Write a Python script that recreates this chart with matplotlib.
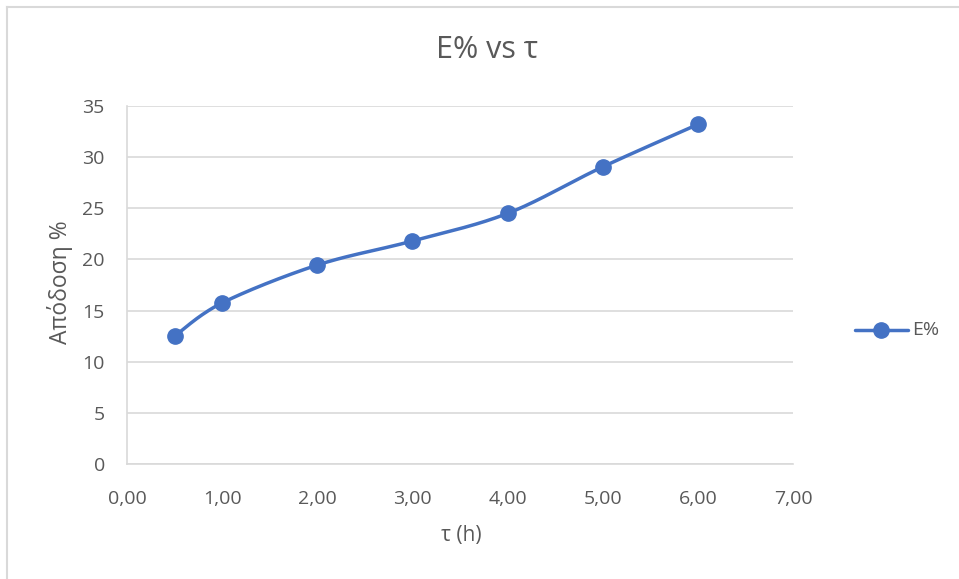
import numpy as np
import matplotlib.pyplot as plt
from matplotlib.lines import Line2D

# reaction time (h) and yield (%)
tau = [0.5, 1.0, 2.0, 3.0, 4.0, 5.0, 6.0]
yield_pct = [12.5, 15.75, 19.45, 21.8, 24.5, 29.05, 33.2]

xticks = [0, 1, 2, 3, 4, 5, 6, 7]
yticks = [0, 5, 10, 15, 20, 25, 30, 35]

blue = '#4472C4'
grey_txt = '#595959'
grid_c = '#D9D9D9'
fam = ['Open Sans', 'DejaVu Sans']


def smooth(x, y, n=40):
    # Catmull-Rom style bezier through the points, like a spreadsheet "smoothed line"
    x = np.asarray(x, float)
    y = np.asarray(y, float)
    px, py = [], []
    for i in range(len(x) - 1):
        i0 = max(i - 1, 0)
        i3 = min(i + 2, len(x) - 1)
        c1x = x[i] + (x[i + 1] - x[i0]) / 6
        c1y = y[i] + (y[i + 1] - y[i0]) / 6
        c2x = x[i + 1] - (x[i3] - x[i]) / 6
        c2y = y[i + 1] - (y[i3] - y[i]) / 6
        t = np.linspace(0, 1, n)
        a = (1 - t) ** 3
        b = 3 * (1 - t) ** 2 * t
        c = 3 * (1 - t) * t ** 2
        d = t ** 3
        px.extend(a * x[i] + b * c1x + c * c2x + d * x[i + 1])
        py.extend(a * y[i] + b * c1y + c * c2y + d * y[i + 1])
    return px, py


fig = plt.figure(figsize=(9.59, 5.79), dpi=100)
ax = fig.add_axes([127 / 959, 1 - 464 / 579, 666 / 959, 358 / 579])

sx, sy = smooth(tau, yield_pct)
ax.plot(sx, sy, color=blue, lw=2.5, solid_capstyle='round', zorder=3)
ax.plot(tau, yield_pct, 'o', color=blue, ms=11, zorder=4)

ax.set_xlim(0, 7)
ax.set_ylim(0, 35)
ax.set_xticks(xticks)
ax.set_yticks(yticks)
ax.set_xticklabels([f'{v:.2f}'.replace('.', ',') for v in xticks])
ax.set_yticklabels([str(v) for v in yticks])
ax.tick_params(length=0, labelsize=14, colors=grey_txt)
ax.tick_params(axis='x', pad=19)
ax.tick_params(axis='y', pad=16)
for lab in ax.get_xticklabels() + ax.get_yticklabels():
    lab.set_family(fam)

ax.grid(axis='y', color=grid_c, lw=1.2)
ax.set_axisbelow(True)
for s in ['top', 'right']:
    ax.spines[s].set_visible(False)
for s in ['left', 'bottom']:
    ax.spines[s].set_color(grid_c)
    ax.spines[s].set_linewidth(1.2)

fig.text(487 / 959, 1 - 50 / 579, 'E% vs τ', ha='center', va='center',
         fontsize=22, color=grey_txt, family=fam)
fig.text(60 / 959, 1 - 282 / 579, 'Απόδοση %', ha='center', va='center',
         rotation=90, fontsize=16.5, color=grey_txt, family=fam)
fig.text(461 / 959, 1 - 536 / 579, 'τ (h)', ha='center', va='center',
         fontsize=15, color=grey_txt, family=fam)

# legend entry on the right
fig.add_artist(Line2D([855 / 959, 908 / 959], [1 - 330 / 579] * 2, color=blue,
                      lw=2.5, solid_capstyle='round'))
fig.add_artist(Line2D([881 / 959], [1 - 330 / 579], marker='o', color=blue, ms=11))
fig.text(912 / 959, 1 - 330 / 579, 'E%', ha='left', va='center',
         fontsize=14, color=grey_txt, family=fam)

# chart frame
fig.add_artist(Line2D([7 / 959, 1], [1 - 7 / 579] * 2, color=grid_c, lw=1.5))
fig.add_artist(Line2D([7 / 959] * 2, [0, 1 - 7 / 579], color=grid_c, lw=1.5))

fig.savefig('out.png', dpi=100)
